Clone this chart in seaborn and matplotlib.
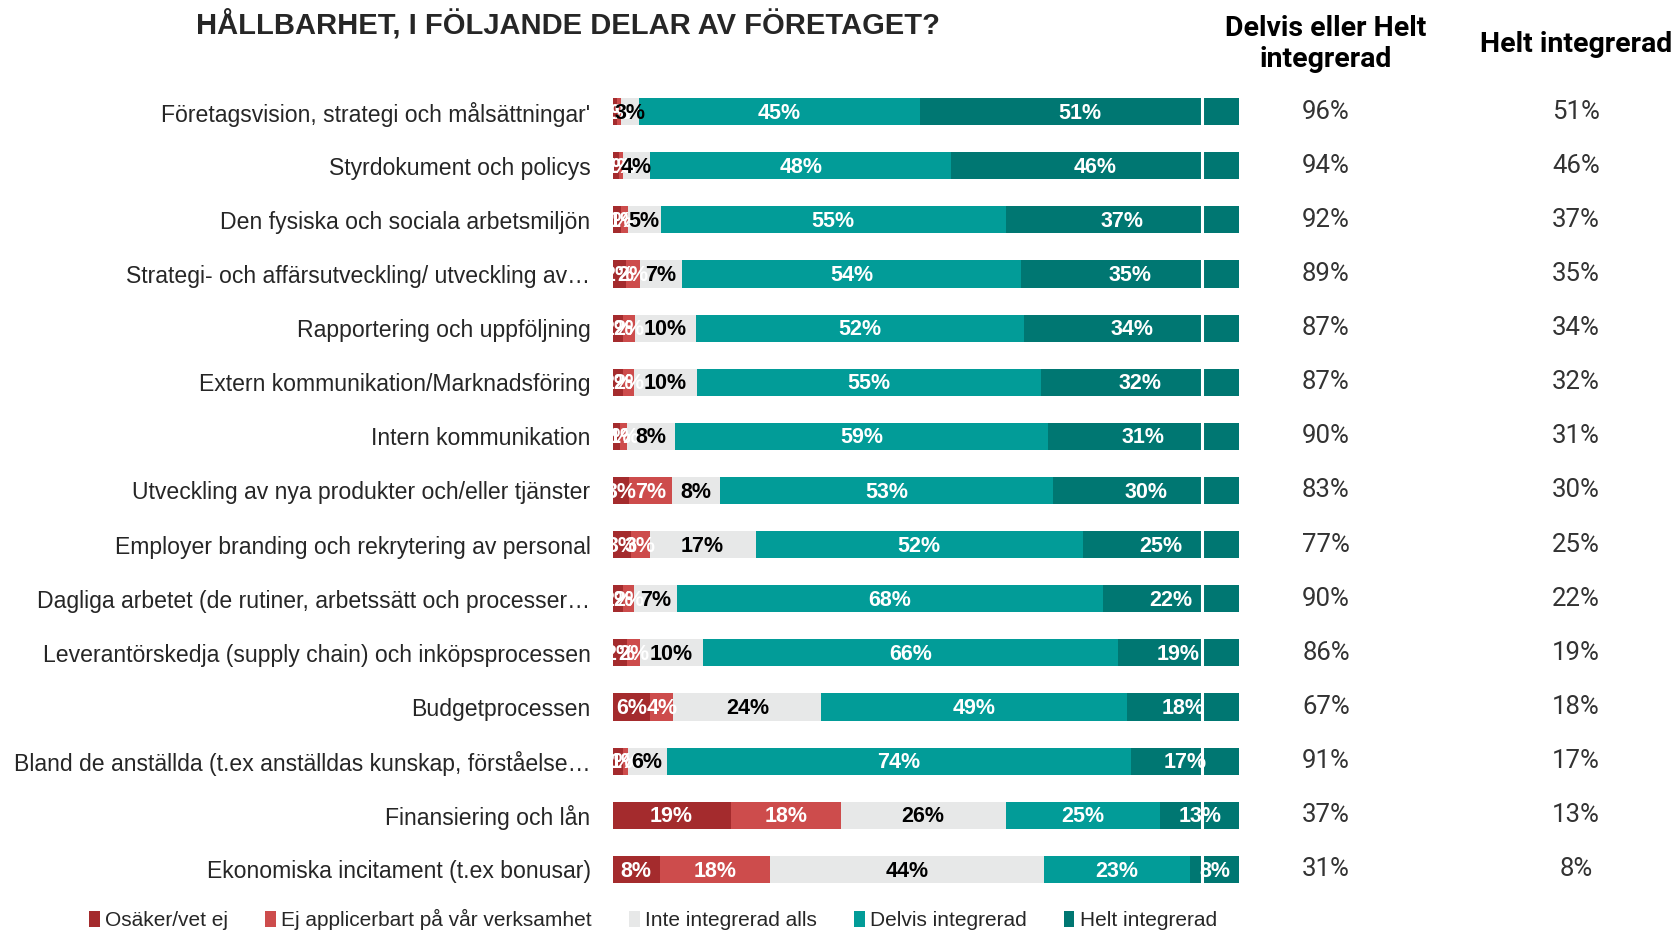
import numpy as np
import pandas as pd
import matplotlib
matplotlib.use("Agg")
import matplotlib.pyplot as plt
import matplotlib.transforms as mtransforms
from matplotlib.patches import Patch
import seaborn as sns

# --------------------------
# Data
# --------------------------
categories = [
    "Företagsvision, strategi och målsättningar'",
    "Styrdokument och policys",
    "Den fysiska och sociala arbetsmiljön",
    "Strategi- och affärsutveckling/ utveckling av…",
    "Rapportering och uppföljning",
    "Extern kommunikation/Marknadsföring",
    "Intern kommunikation",
    "Utveckling av nya produkter och/eller tjänster",
    "Employer branding och rekrytering av personal",
    "Dagliga arbetet (de rutiner, arbetssätt och processer…",
    "Leverantörskedja (supply chain) och inköpsprocessen",
    "Budgetprocessen",
    "Bland de anställda (t.ex anställdas kunskap, förståelse…",
    "Finansiering och lån",
    "Ekonomiska incitament (t.ex bonusar)",
]
osaker = [0.7, 1.0, 1.4, 2.1, 1.6, 1.6, 1.2, 2.6, 2.9, 1.6, 2.2, 6.0, 1.6, 18.8, 7.5]
ej_appl = [0.7, 0.6, 1.0, 2.2, 2.0, 1.8, 1.1, 6.9, 3.0, 1.8, 2.2, 3.7, 0.8, 17.6, 17.6]
inte = [2.8, 4.4, 5.3, 6.8, 9.7, 10.0, 7.7, 7.6, 16.9, 6.8, 10.0, 23.6, 6.2, 26.3, 43.7]
delvis = [44.8, 48.0, 55.0, 54.0, 52.4, 55.0, 59.4, 53.2, 52.2, 68.0, 66.2, 48.8, 74.1, 24.7, 23.4]
helt = [51.0, 46.0, 37.3, 34.9, 34.3, 31.6, 30.6, 29.7, 25.0, 21.8, 19.4, 17.9, 17.3, 12.6, 7.8]

series_names = ["Osäker/vet ej", "Ej applicerbart på vår verksamhet",
                "Inte integrerad alls", "Delvis integrerad", "Helt integrerad"]
colors = ["#A42B2D", "#CD4C4C", "#E7E8E8", "#029C98", "#007772"]
label_colors = ["white", "white", "black", "white", "white"]

title = "HÅLLBARHET, I FÖLJANDE DELAR AV FÖRETAGET?"
col1_header = "Delvis eller Helt\nintegrerad"
col2_header = "Helt integrerad"

# --------------------------
# Build tables
# --------------------------
df = pd.DataFrame({"Kategori": categories})
for name, vals in zip(series_names, [osaker, ej_appl, inte, delvis, helt]):
    df[name] = vals
cum = df[series_names].cumsum(axis=1)
df["DelvisHelt"] = df["Delvis integrerad"] + df["Helt integrerad"]

# --------------------------
# Plot
# --------------------------
sns.set_theme(style="white")
plt.rcParams["font.family"] = ["Liberation Sans", "DejaVu Sans"]

fig = plt.figure(figsize=(16.81, 9.31), dpi=100)
ax = fig.add_axes([0.3645, 0.0371, 0.3727, 0.8721])

# stacked bars: draw cumulative totals from the right-most segment down
for name, col in reversed(list(zip(series_names, colors))):
    sns.barplot(x=cum[name], y=df["Kategori"], order=categories, orient="h",
                color=col, saturation=1, width=0.5, errorbar=None, ax=ax,
                linewidth=0)

ax.axvline(94, color="white", lw=2.2, zorder=5)

ax.set_xlim(0, 100)
ax.set_ylim(len(categories) - 0.5, -0.5)
ax.set_xlabel("")
ax.set_ylabel("")
ax.set_xticks([])
ax.tick_params(axis="y", length=0, pad=16, labelsize=16.6, labelcolor="#262626")
sns.despine(ax=ax, left=True, bottom=True)

# segment labels
for i in range(len(categories)):
    start = 0.0
    for name, lc in zip(series_names, label_colors):
        v = df.loc[i, name]
        ax.text(start + v / 2, i + 0.03, f"{v:.0f}%", ha="center", va="center",
                color=lc, fontsize=15.5, fontweight="bold", zorder=6)
        start += v

# right-hand summary columns
tr = mtransforms.blended_transform_factory(fig.transFigure, ax.transData)
for i in range(len(categories)):
    ax.text(1326 / 1681, i, f"{df.loc[i, 'DelvisHelt']:.0f}%", transform=tr,
            ha="center", va="center", fontsize=18.5, color="#333333",
            family=["Roboto", "DejaVu Sans"], clip_on=False)
    ax.text(1576 / 1681, i, f"{df.loc[i, 'Helt integrerad']:.0f}%", transform=tr,
            ha="center", va="center", fontsize=18.5, color="#333333",
            family=["Roboto", "DejaVu Sans"], clip_on=False)

fig.text(1326 / 1681, 1 - 44 / 931, col1_header, ha="center", va="center",
         fontsize=20.5, fontweight="bold", color="black", linespacing=1.2,
         family=["Roboto", "DejaVu Sans"])
fig.text(1576 / 1681, 1 - 44 / 931, col2_header, ha="center", va="center",
         fontsize=20.5, fontweight="bold", color="black",
         family=["Roboto", "DejaVu Sans"])

fig.text(568 / 1681, 1 - 24 / 931, title, ha="center", va="center",
         fontsize=21, fontweight="bold", color="#262626",
         family=["Liberation Sans Narrow", "Liberation Sans", "DejaVu Sans"])

handles = [Patch(facecolor=c, edgecolor="none") for c in colors]
fig.legend(handles, series_names, loc="center", bbox_to_anchor=(653 / 1681, 0.012),
           ncol=5, frameon=False, handlelength=0.5, handleheight=0.8,
           handletextpad=0.25, columnspacing=1.8,
           prop={"family": ["Liberation Sans Narrow", "Liberation Sans"], "size": 15},
           labelcolor="#262626")

fig.savefig("out.png", dpi=100)
